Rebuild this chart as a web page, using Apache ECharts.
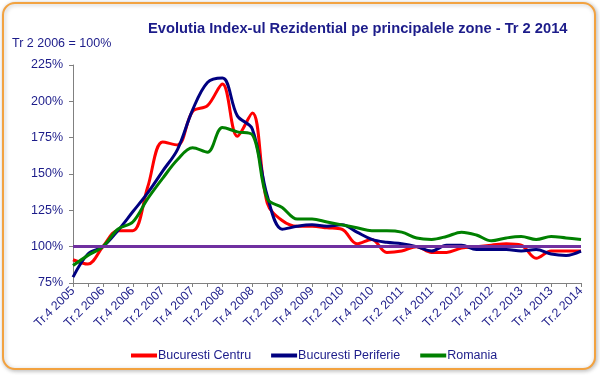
<!DOCTYPE html>
<html>
<head>
<meta charset="utf-8">
<script src="https://cdn.jsdelivr.net/npm/echarts@6/dist/echarts.min.js"></script>
<style>html,body{margin:0;padding:0;background:#fff}#c{width:600px;height:375px}</style>
</head>
<body>
<div id="c"></div>
<script>
const categories = ['Tr.4 2005','Tr.1 2006','Tr.2 2006','Tr.3 2006','Tr.4 2006','Tr.1 2007','Tr.2 2007','Tr.3 2007','Tr.4 2007','Tr.1 2008','Tr.2 2008','Tr.3 2008','Tr.4 2008','Tr.1 2009','Tr.2 2009','Tr.3 2009','Tr.4 2009','Tr.1 2010','Tr.2 2010','Tr.3 2010','Tr.4 2010','Tr.1 2011','Tr.2 2011','Tr.3 2011','Tr.4 2011','Tr.1 2012','Tr.2 2012','Tr.3 2012','Tr.4 2012','Tr.1 2013','Tr.2 2013','Tr.3 2013','Tr.4 2013','Tr.1 2014','Tr.2 2014'];
const bucurestiCentru = [91, 88, 100, 111, 111, 141, 172, 170, 193, 197, 212, 176, 192, 130, 118, 114, 114, 113, 112, 102, 105, 96, 97, 100, 96, 96, 99, 100, 101, 102, 101, 92, 97, 97, 97];
const bucurestiPeriferie = [79, 95, 100, 111, 124, 137, 152, 167, 194, 213, 216, 190, 181, 135, 112, 114, 115, 114, 115, 110, 105, 103, 102, 100, 97, 101, 101, 98, 98, 98, 97, 98, 95, 94, 97];
const romania = [87, 94, 100, 112, 117, 133, 147, 160, 168, 165, 182, 179, 177, 133, 127, 119, 119, 117, 115, 113, 111, 111, 110, 106, 105, 107, 110, 108, 104, 106, 107, 105, 107, 106, 105];
const baseline = [100];
const yTicks = {min: 75, max: 225, interval: 25};

const blue = '#1c1c8a';
const font = 'Liberation Sans, Arial';
const chart = echarts.init(document.getElementById('c'));
chart.setOption({
  animation: false,
  backgroundColor: '#fff',
  title: {
    text: 'Evolutia Index-ul Rezidential pe principalele zone - Tr 2 2014',
    left: 143, top: 16,
    textStyle: {color: blue, fontSize: 14.7, fontWeight: 'bold', fontFamily: font}
  },
  graphic: [
    {type: 'rect', z: -1, shape: {x: 3, y: 3, width: 592, height: 366, r: 12},
     style: {fill: '#fff', stroke: '#f2a240', lineWidth: 2, shadowBlur: 4, shadowColor: 'rgba(0,0,0,0.25)', shadowOffsetX: 1, shadowOffsetY: 1}},
    {type: 'text', left: 12, top: 37, style: {text: 'Tr 2 2006 = 100%', fill: blue, fontSize: 12.5, fontFamily: font}}
  ],
  legend: {
    bottom: 8, left: 126,
    itemWidth: 26, itemHeight: 4, itemGap: 20,
    icon: 'rect',
    textStyle: {color: blue, fontSize: 12.5, fontFamily: font, padding: [0,0,0,-4]},
    data: ['Bucuresti Centru', 'Bucuresti Periferie', 'Romania']
  },
  grid: {left: 73, right: 19, top: 65, bottom: 92, containLabel: false},
  xAxis: {
    type: 'category', data: categories, boundaryGap: false,
    axisLine: {lineStyle: {color: '#808080', width: 1}},
    axisTick: {interval: 0, length: 4, lineStyle: {color: '#808080'}},
    axisLabel: {interval: 1, rotate: 45, color: blue, fontSize: 12.3, fontFamily: font, margin: 6},
    splitLine: {show: false}
  },
  yAxis: {
    type: 'value', min: yTicks.min, max: yTicks.max, interval: yTicks.interval,
    axisLine: {show: true, lineStyle: {color: '#808080', width: 1}},
    axisTick: {show: true, length: 4, lineStyle: {color: '#808080'}},
    axisLabel: {formatter: '{value}%', color: blue, fontSize: 12.5, fontFamily: font, margin: 10},
    splitLine: {show: false}
  },
  series: [
    {name: 'Bucuresti Centru', type: 'line', data: bucurestiCentru, smooth: 0.35, symbol: 'none',
     lineStyle: {color: '#ff0000', width: 3}, itemStyle: {color: '#ff0000'}, z: 2},
    {name: 'Bucuresti Periferie', type: 'line', data: bucurestiPeriferie, smooth: 0.35, symbol: 'none',
     lineStyle: {color: '#000080', width: 3}, itemStyle: {color: '#000080'}, z: 3},
    {name: 'Romania', type: 'line', data: romania, smooth: 0.35, symbol: 'none',
     lineStyle: {color: '#008000', width: 3}, itemStyle: {color: '#008000'}, z: 4,
     markLine: {silent: true, symbol: 'none', label: {show: false},
       lineStyle: {color: '#7030a0', width: 3, type: 'solid'},
       data: baseline.map(v => ({yAxis: v}))}}
  ]
});
</script>
</body>
</html>
